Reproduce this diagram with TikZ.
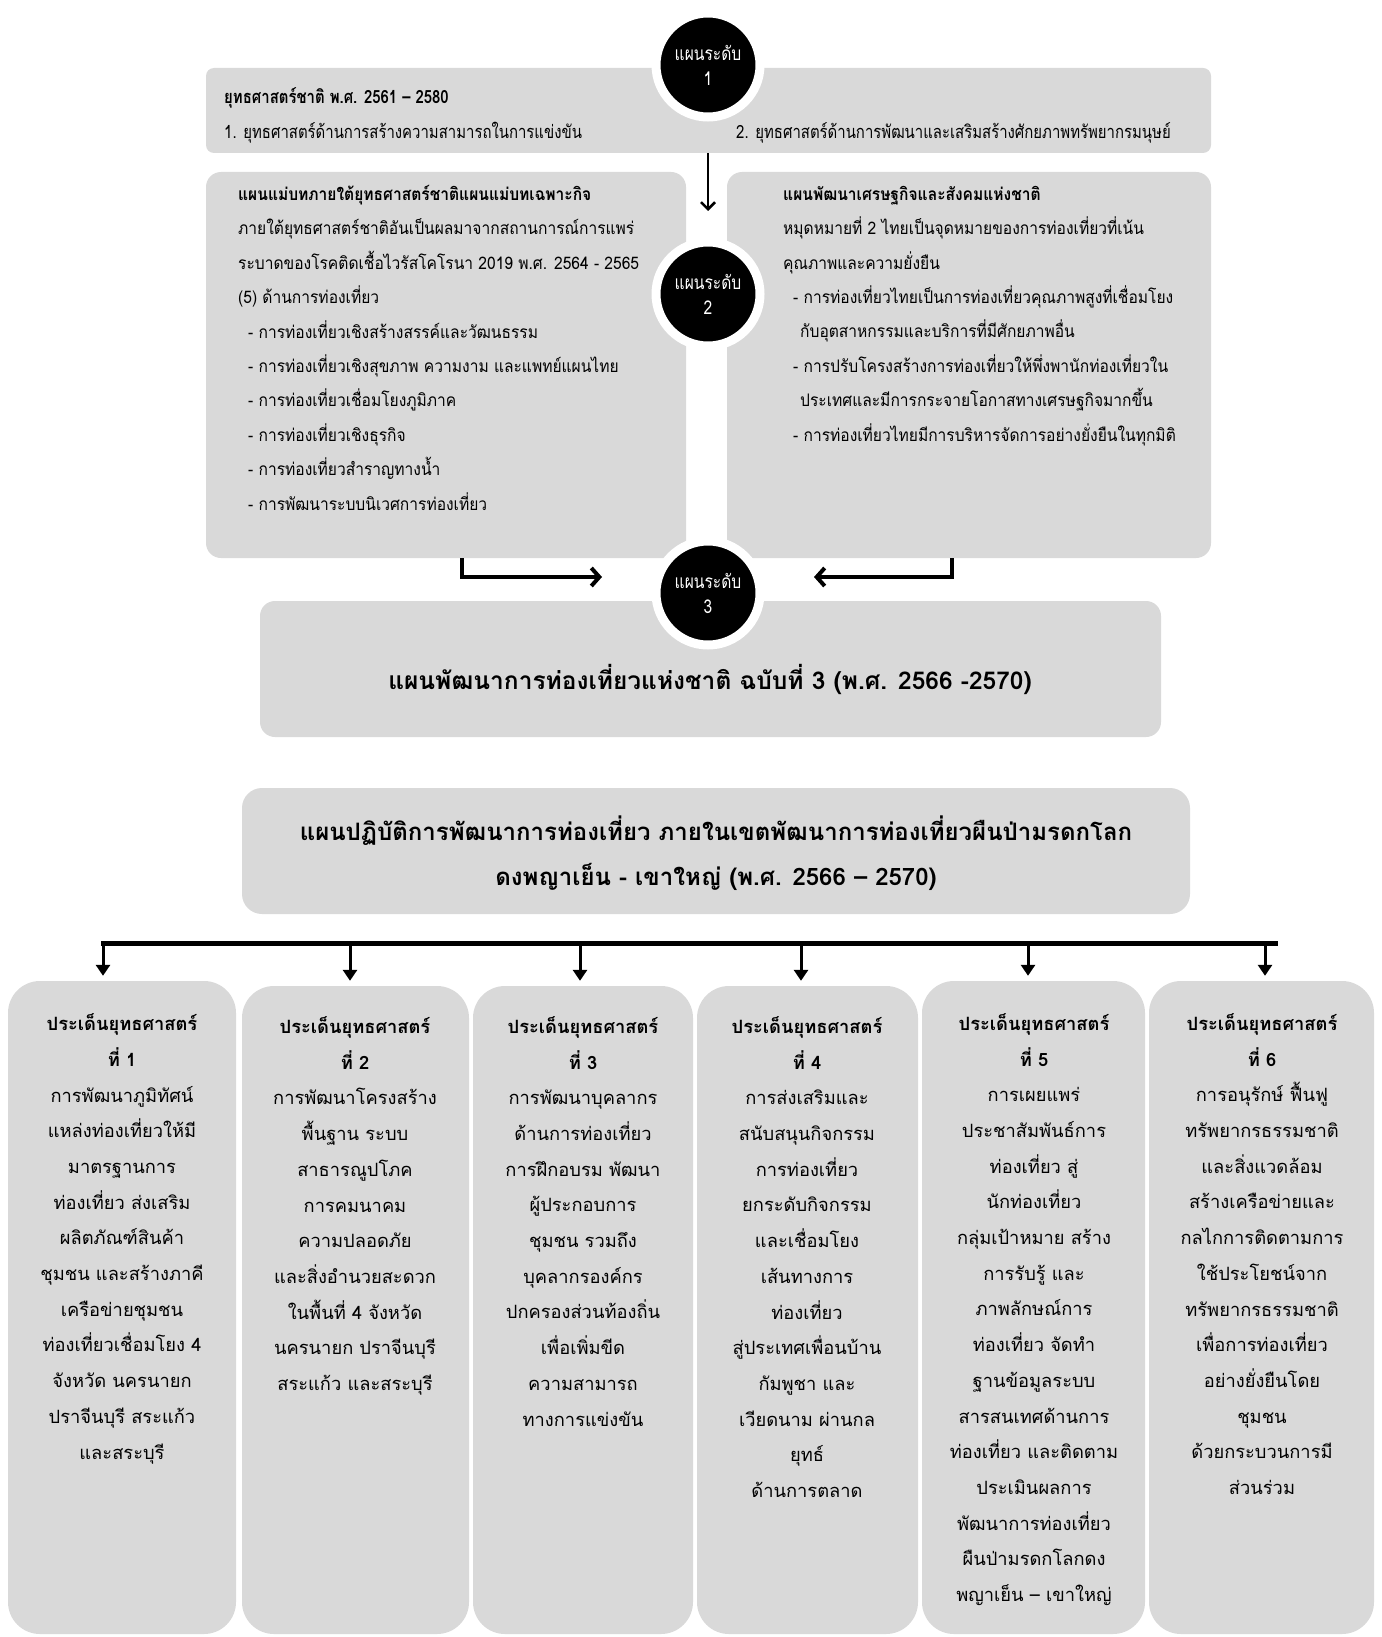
\documentclass[tikz,border=0pt]{standalone}
\usepackage{fontspec}
\setmainfont{Loma}[Script=Thai]
\newfontfamily\condf[Script=Thai,FakeStretch=0.82]{Loma}
\newfontfamily\midf[Script=Thai,FakeStretch=0.9]{Loma}
\usetikzlibrary{arrows.meta}
\definecolor{boxgray}{RGB}{217,217,217}
\begin{document}
\begin{tikzpicture}[x=1pt,y=-1pt,
  box/.style={fill=boxgray, draw=none, rounded corners=#1, inner sep=0pt},
  lvl/.style={circle, fill=black, draw=white, line width=9pt, minimum size=104pt, inner sep=0pt,
    text=white, align=center, font=\condf\fontsize{19}{25}\selectfont},
  toptxt/.style={anchor=base west, inner sep=0pt, font=\condf\fontsize{18.2}{20}\selectfont},
  midtxt/.style={anchor=base west, inner sep=0pt, align=left, font=\midf\fontsize{17.3}{34.4}\selectfont},
  bigtxt/.style={inner sep=0pt, align=center, font=\bfseries\fontsize{24.5}{45}\selectfont},
  stxt/.style={anchor=base, inner sep=0pt, align=center, font=\fontsize{18.3}{35.7}\selectfont},
  tarr/.style={line width=2.5pt, -{Straight Barb[length=7pt,width=14pt]}},
  larr/.style={line width=4pt, -{Straight Barb[length=8pt,width=18pt]}},
  darr/.style={line width=3pt, -{Triangle[length=11pt,width=14pt]}},
]
\useasboundingbox[fill=white] (0,0) rectangle (1381,1637);

% level 1
\node[box=8pt, minimum width=1005pt, minimum height=85pt] (l1) at (708.5,110.5) {};
\node[toptxt, font=\condf\bfseries\fontsize{18.2}{20}\selectfont] (t1a) at (224,104) {ยุทธศาสตร์ชาติ พ.ศ. 2561 – 2580};
\node[toptxt] (t1b) at (224,139) {1. ยุทธศาสตร์ด้านการสร้างความสามารถในการแข่งขัน};
\node[toptxt] (t1c) at (736,139) {2. ยุทธศาสตร์ด้านการพัฒนาและเสริมสร้างศักยภาพทรัพยากรมนุษย์};
\node[lvl] (c1) at (708,65) {แผนระดับ\\1};

% level 2 boxes
\node[box=15pt, minimum width=480pt, minimum height=386pt] (l2a) at (446,365) {};
\node[box=15pt, minimum width=484pt, minimum height=386pt] (l2b) at (969,365) {};
\node[midtxt] (t2a) at (238,510) {\textbf{แผนแม่บทภายใต้ยุทธศาสตร์ชาติแผนแม่บทเฉพาะกิจ}\\
ภายใต้ยุทธศาสตร์ชาติอันเป็นผลมาจากสถานการณ์การแพร่\\
ระบาดของโรคติดเชื้อไวรัสโคโรนา 2019 พ.ศ. 2564 - 2565\\
(5) ด้านการท่องเที่ยว\\
\hspace*{10pt}- การท่องเที่ยวเชิงสร้างสรรค์และวัฒนธรรม\\
\hspace*{10pt}- การท่องเที่ยวเชิงสุขภาพ ความงาม และแพทย์แผนไทย\\
\hspace*{10pt}- การท่องเที่ยวเชื่อมโยงภูมิภาค\\
\hspace*{10pt}- การท่องเที่ยวเชิงธุรกิจ\\
\hspace*{10pt}- การท่องเที่ยวสำราญทางน้ำ\\
\hspace*{10pt}- การพัฒนาระบบนิเวศการท่องเที่ยว};
\node[midtxt] (t2b) at (783,441) {\textbf{แผนพัฒนาเศรษฐกิจและสังคมแห่งชาติ}\\
หมุดหมายที่ 2 ไทยเป็นจุดหมายของการท่องเที่ยวที่เน้น\\
คุณภาพและความยั่งยืน\\
\hspace*{10pt}- การท่องเที่ยวไทยเป็นการท่องเที่ยวคุณภาพสูงที่เชื่อมโยง\\
\hspace*{17pt}กับอุตสาหกรรมและบริการที่มีศักยภาพอื่น\\
\hspace*{10pt}- การปรับโครงสร้างการท่องเที่ยวให้พึ่งพานักท่องเที่ยวใน\\
\hspace*{17pt}ประเทศและมีการกระจายโอกาสทางเศรษฐกิจมากขึ้น\\
\hspace*{10pt}- การท่องเที่ยวไทยมีการบริหารจัดการอย่างยั่งยืนในทุกมิติ};
\node[lvl] (c2) at (708,294) {แผนระดับ\\2};

% level 3
\node[box=15pt, minimum width=901pt, minimum height=136pt] (l3) at (710.5,669) {};
\node[bigtxt] (t3) at (710,679) {แผนพัฒนาการท่องเที่ยวแห่งชาติ ฉบับที่ 3 (พ.ศ. 2566 -2570)};
\node[lvl] (c3) at (708,593) {แผนระดับ\\3};

% level 4
\node[box=20pt, minimum width=948pt, minimum height=126pt] (l4) at (716,851) {};
\node[bigtxt, font=\bfseries\fontsize{24}{45}\selectfont] (t4) at (716,853) {แผนปฏิบัติการพัฒนาการท่องเที่ยว ภายในเขตพัฒนาการท่องเที่ยวผืนป่ามรดกโลก\\ดงพญาเย็น - เขาใหญ่ (พ.ศ. 2566 – 2570)};

% connectors top
\coordinate (a1end) at (708,211);
\draw[tarr] (c1 |- l1.south) -- (a1end);
\coordinate (la0) at (462,558);
\coordinate (la1) at (602,577);
\coordinate (ra0) at (952,558);
\coordinate (ra1) at (814,577);
\draw[larr] (la0) |- (la1);
\draw[larr] (ra0) |- (ra1);

% bar
\coordinate (barL) at (101,943);
\coordinate (barR) at (1278,943);
\draw[line width=5pt] (barL) -- (barR);

% bottom boxes
\node[box=32pt, minimum width=228pt, minimum height=653pt] (s1) at (122,1307.5) {};
\node[box=32pt, minimum width=227pt, minimum height=648pt] (s2) at (355.5,1310) {};
\node[box=32pt, minimum width=220pt, minimum height=648pt] (s3) at (583,1310) {};
\node[box=32pt, minimum width=221pt, minimum height=648pt] (s4) at (807.5,1310) {};
\node[box=32pt, minimum width=223pt, minimum height=653pt] (s5) at (1033.5,1307.5) {};
\node[box=32pt, minimum width=225pt, minimum height=653pt] (s6) at (1261.5,1307.5) {};

\foreach \n/\x in {1/103,2/350,3/580,4/801,5/1028,6/1265}{
  \coordinate (b\n) at (\x,946);
  \draw[darr, shorten >=5pt] (b\n) -- (b\n |- s\n.north);
}

% anchor base = baseline of the last line
\node[stxt] (st1) at (122,1459) {\textbf{ประเด็นยุทธศาสตร์}\\\textbf{ที่ 1}\\
การพัฒนาภูมิทัศน์\\แหล่งท่องเที่ยวให้มี\\มาตรฐานการ\\ท่องเที่ยว ส่งเสริม\\ผลิตภัณฑ์สินค้า\\ชุมชน และสร้างภาคี\\เครือข่ายชุมชน\\ท่องเที่ยวเชื่อมโยง 4\\จังหวัด นครนายก\\ปราจีนบุรี สระแก้ว\\และสระบุรี};
\node[stxt] (st2) at (355,1390.5) {\textbf{ประเด็นยุทธศาสตร์}\\\textbf{ที่ 2}\\
การพัฒนาโครงสร้าง\\พื้นฐาน ระบบ\\สาธารณูปโภค\\การคมนาคม\\ความปลอดภัย\\และสิ่งอำนวยสะดวก\\ในพื้นที่ 4 จังหวัด\\นครนายก ปราจีนบุรี\\สระแก้ว และสระบุรี};
\node[stxt] (st3) at (583,1426) {\textbf{ประเด็นยุทธศาสตร์}\\\textbf{ที่ 3}\\
การพัฒนาบุคลากร\\ด้านการท่องเที่ยว\\การฝึกอบรม พัฒนา\\ผู้ประกอบการ\\ชุมชน รวมถึง\\บุคลากรองค์กร\\ปกครองส่วนท้องถิ่น\\เพื่อเพิ่มขีด\\ความสามารถ\\ทางการแข่งขัน};
\node[stxt] (st4) at (807,1497.5) {\textbf{ประเด็นยุทธศาสตร์}\\\textbf{ที่ 4}\\
การส่งเสริมและ\\สนับสนุนกิจกรรม\\การท่องเที่ยว\\ยกระดับกิจกรรม\\และเชื่อมโยง\\เส้นทางการ\\ท่องเที่ยว\\สู่ประเทศเพื่อนบ้าน\\กัมพูชา และ\\เวียดนาม ผ่านกล\\ยุทธ์\\ด้านการตลาด};
\node[stxt] (st5) at (1034,1601.5) {\textbf{ประเด็นยุทธศาสตร์}\\\textbf{ที่ 5}\\
การเผยแพร่\\ประชาสัมพันธ์การ\\ท่องเที่ยว สู่\\นักท่องเที่ยว\\กลุ่มเป้าหมาย สร้าง\\การรับรู้ และ\\ภาพลักษณ์การ\\ท่องเที่ยว จัดทำ\\ฐานข้อมูลระบบ\\สารสนเทศด้านการ\\ท่องเที่ยว และติดตาม\\ประเมินผลการ\\พัฒนาการท่องเที่ยว\\ผืนป่ามรดกโลกดง\\พญาเย็น – เขาใหญ่};
\node[stxt] (st6) at (1262,1494.5) {\textbf{ประเด็นยุทธศาสตร์}\\\textbf{ที่ 6}\\
การอนุรักษ์ ฟื้นฟู\\ทรัพยากรธรรมชาติ\\และสิ่งแวดล้อม\\สร้างเครือข่ายและ\\กลไกการติดตามการ\\ใช้ประโยชน์จาก\\ทรัพยากรธรรมชาติ\\เพื่อการท่องเที่ยว\\อย่างยั่งยืนโดย\\ชุมชน\\ด้วยกระบวนการมี\\ส่วนร่วม};
\end{tikzpicture}
\end{document}
